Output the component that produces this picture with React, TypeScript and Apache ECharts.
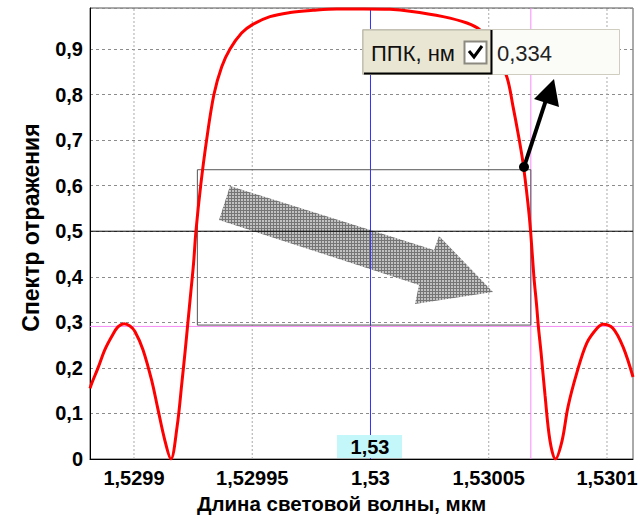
import React, { useEffect, useRef } from "react";
import * as echarts from "echarts";

// Reflection spectrum (wavelength, µm / reflectance)
const wavelength = [
  1.5298814, 1.5298822, 1.5298848, 1.5298877, 1.5298907, 1.5298932, 1.5298958, 1.5298983,
  1.5299004, 1.5299038, 1.5299076, 1.5299101, 1.5299131, 1.5299156, 1.5299182, 1.5299203,
  1.5299216, 1.5299228, 1.5299241, 1.5299252, 1.5299262, 1.5299282, 1.5299307, 1.5299338,
  1.5299371, 1.5299406, 1.5299455, 1.5299499, 1.5299575, 1.529966, 1.5299757, 1.5299858,
  1.529997, 1.5300082, 1.5300167, 1.5300307, 1.5300408, 1.5300463, 1.5300522, 1.5300577,
  1.5300603, 1.5300624, 1.5300645, 1.5300666, 1.5300677, 1.5300691, 1.5300702, 1.530071,
  1.5300721, 1.5300738, 1.5300759, 1.5300782, 1.530081, 1.5300835, 1.5300873, 1.5300915,
  1.5300958, 1.5300983, 1.5301025, 1.5301068, 1.530111,
];
const reflectance = [
  0.155, 0.167, 0.2, 0.24, 0.27, 0.29, 0.297, 0.292,
  0.28, 0.24, 0.17, 0.11, 0.04, 0.0, 0.07, 0.17,
  0.235, 0.3, 0.37, 0.43, 0.5, 0.6, 0.7, 0.8,
  0.861, 0.9, 0.935, 0.953, 0.971, 0.98, 0.985, 0.988,
  0.988, 0.987, 0.983, 0.971, 0.957, 0.942, 0.905, 0.838,
  0.773, 0.715, 0.65, 0.56, 0.5, 0.4, 0.34, 0.29,
  0.235, 0.14, 0.04, 0.0, 0.04, 0.114, 0.19, 0.255,
  0.287, 0.296, 0.287, 0.246, 0.18,
];

const xTickValues = [1.5299, 1.52995, 1.53, 1.53005, 1.5301];
const yTickValues = [0, 0.1, 0.2, 0.3, 0.4, 0.5, 0.6, 0.7, 0.8, 0.9];
const xMin = 1.5298814;
const xMax = 1.530111;
const yMax = 0.99;

const centerWavelength = 1.53;
const halfLevel = 0.5;
const ppkLevel = 0.291;
const ppkEdge = 1.5300678;
const boxLeft = 1.5299268;
const boxTop = 0.635;
const boxBottom = 0.294;
const ppkLabel = "ППК, нм";
const ppkValue = "0,334";
const centerLabel = "1,53";

const fmt = (v: number) => (v === 0 ? "0" : String(v).replace(".", ","));

function makeHatch(): any {
  try {
    const c = document.createElement("canvas");
    c.width = 3;
    c.height = 3;
    const ctx = c.getContext("2d");
    if (!ctx) return "#a0a0a0";
    ctx.fillStyle = "#c2c2c2";
    ctx.fillRect(0, 0, 3, 3);
    ctx.fillStyle = "#767676";
    ctx.fillRect(0, 0, 3, 1);
    ctx.fillRect(0, 0, 1, 3);
    return { image: c, repeat: "repeat" };
  } catch (e) {
    return "#a0a0a0";
  }
}

function seg(name: string, pts: number[][], color: string, z: number, type: any = "solid") {
  return {
    type: "line",
    name,
    data: pts,
    z,
    silent: true,
    showSymbol: false,
    symbol: "none",
    clip: true,
    lineStyle: { color, type, width: 1 },
  };
}

export default function App() {
  const ref = useRef<HTMLDivElement>(null);

  useEffect(() => {
    if (!ref.current) return;
    const chart = echarts.init(ref.current, undefined, { renderer: "svg" });
    const curve = wavelength.map((w, i) => [w, reflectance[i]]);
    const bold = '"Liberation Sans", Arial, sans-serif';

    const gridSeries = xTickValues.map((v, i) =>
      seg("grid" + i, [[v, 0], [v, yMax]], "#aaaaaa", 1, [2, 2])
    );

    const option: any = {
      animation: false,
      backgroundColor: "#ffffff",
      grid: {
        left: 90,
        right: 9,
        top: 8,
        bottom: 56,
        containLabel: false,
        outerBoundsMode: "none",
        show: true,
        borderColor: "#555",
        borderWidth: 1,
      },
      xAxis: {
        type: "value",
        min: xMin,
        max: xMax,
        name: "Длина световой волны, мкм",
        nameLocation: "middle",
        nameGap: 33,
        nameTextStyle: {
          fontFamily: bold,
          fontWeight: "bold",
          fontSize: 20.5,
          color: "#000",
          padding: [0, 40, 0, 0],
        },
        axisLine: { show: true, onZero: false, lineStyle: { color: "#000", width: 1 } },
        axisTick: { show: false },
        splitLine: { show: false },
        axisLabel: {
          customValues: xTickValues,
          formatter: (v: number) => fmt(v),
          fontFamily: bold,
          fontWeight: "bold",
          fontSize: 20,
          color: "#000",
          margin: 9,
        },
      },
      yAxis: {
        type: "value",
        min: 0,
        max: yMax,
        interval: 0.1,
        name: "Спектр отражения",
        nameLocation: "middle",
        nameRotate: 90,
        nameGap: 48,
        nameTextStyle: {
          fontFamily: bold,
          fontWeight: "bold",
          fontSize: 23,
          color: "#000",
          padding: [0, 0, 0, 12],
        },
        axisLine: { show: true, onZero: false, lineStyle: { color: "#000", width: 1 } },
        axisTick: { show: false },
        splitLine: {
          show: true,
          lineStyle: { color: "#8c8c8c", type: [3, 3], width: 1 },
        },
        axisLabel: {
          customValues: yTickValues,
          formatter: (v: number) => (v > 0.95 ? "" : v === 0 ? "0" : v.toFixed(1).replace(".", ",")),
          fontFamily: bold,
          fontWeight: "bold",
          fontSize: 20,
          color: "#000",
          margin: 7,
        },
      },
      series: [
        ...gridSeries,
        seg("centre", [[centerWavelength, 0], [centerWavelength, yMax]], "#3333ff", 3),
        seg("half", [[xMin, halfLevel], [xMax, halfLevel]], "#000000", 3),
        seg("ppkLevel", [[xMin, ppkLevel], [xMax, ppkLevel]], "#f58cf5", 3),
        seg("ppkEdge", [[ppkEdge, 0], [ppkEdge, yMax]], "#f58cf5", 3),
        seg(
          "box",
          [
            [boxLeft, boxBottom],
            [boxLeft, boxTop],
            [ppkEdge, boxTop],
            [ppkEdge, boxBottom],
            [boxLeft, boxBottom],
          ],
          "#555555",
          3
        ),
        {
          type: "line",
          name: "spectrum",
          data: curve,
          z: 4,
          smooth: 0.35,
          showSymbol: false,
          symbol: "none",
          clip: true,
          lineStyle: { color: "#ff0000", width: 3 },
        },
      ],
      graphic: [
        {
          type: "polygon",
          z: 2,
          silent: true,
          shape: {
            points: [
              [230, 186],
              [434, 250],
              [439, 236],
              [493, 292],
              [415, 304],
              [419, 285],
              [219, 220],
            ],
          },
          style: { fill: makeHatch(), stroke: "none" },
        },
        // pointer from the curve to the read-out
        {
          type: "line",
          z: 20,
          silent: true,
          shape: { x1: 524, y1: 167, x2: 546, y2: 100 },
          style: { stroke: "#000", lineWidth: 4 },
        },
        {
          type: "polygon",
          z: 20,
          silent: true,
          shape: { points: [[554, 79], [559, 107], [534, 99]] },
          style: { fill: "#000" },
        },
        {
          type: "circle",
          z: 20,
          silent: true,
          shape: { cx: 524, cy: 167, r: 5 },
          style: { fill: "#000" },
        },
        // read-out widget
        {
          type: "rect",
          z: 20,
          silent: true,
          shape: { x: 362.5, y: 29.5, width: 257, height: 45 },
          style: { fill: "#fbfbf8", stroke: "#cfccc0", lineWidth: 1 },
        },
        {
          type: "rect",
          z: 21,
          silent: true,
          shape: { x: 363, y: 30, width: 128, height: 44 },
          style: { fill: "#e9e6d4", stroke: "#b8b5a6", lineWidth: 1 },
        },
        {
          type: "polyline",
          z: 22,
          silent: true,
          shape: { points: [[364, 73.5], [491.5, 73.5], [491.5, 30]] },
          style: { stroke: "#000", lineWidth: 2, fill: "none" },
        },
        {
          type: "text",
          z: 22,
          silent: true,
          style: {
            text: ppkLabel,
            x: 371,
            y: 53,
            font: '22px "Liberation Sans", Arial, sans-serif',
            fill: "#111",
            align: "left",
            verticalAlign: "middle",
          },
        },
        {
          type: "rect",
          z: 22,
          silent: true,
          shape: { x: 464.5, y: 41.5, width: 22, height: 22 },
          style: { fill: "#ffffff", stroke: "#8c8a80", lineWidth: 2 },
        },
        {
          type: "polyline",
          z: 23,
          silent: true,
          shape: { points: [[469, 51], [474, 57], [482, 46]] },
          style: { stroke: "#000", lineWidth: 3, fill: "none" },
        },
        {
          type: "text",
          z: 22,
          silent: true,
          style: {
            text: ppkValue,
            x: 497,
            y: 53,
            font: '22px "Liberation Sans", Arial, sans-serif',
            fill: "#222",
            align: "left",
            verticalAlign: "middle",
          },
        },
        // centre marker label
        {
          type: "rect",
          z: 20,
          silent: true,
          shape: { x: 337, y: 435, width: 65, height: 23 },
          style: { fill: "#c3f7f9" },
        },
        {
          type: "text",
          z: 21,
          silent: true,
          style: {
            text: centerLabel,
            x: 370,
            y: 447,
            font: 'bold 20px "Liberation Sans", Arial, sans-serif',
            fill: "#000",
            align: "center",
            verticalAlign: "middle",
          },
        },
      ],
    };

    chart.setOption(option);
    return () => chart.dispose();
  }, []);

  return (
    <div
      ref={ref}
      style={{ position: "fixed", left: 0, top: 0, width: 642, height: 515, background: "#fff" }}
    />
  );
}
